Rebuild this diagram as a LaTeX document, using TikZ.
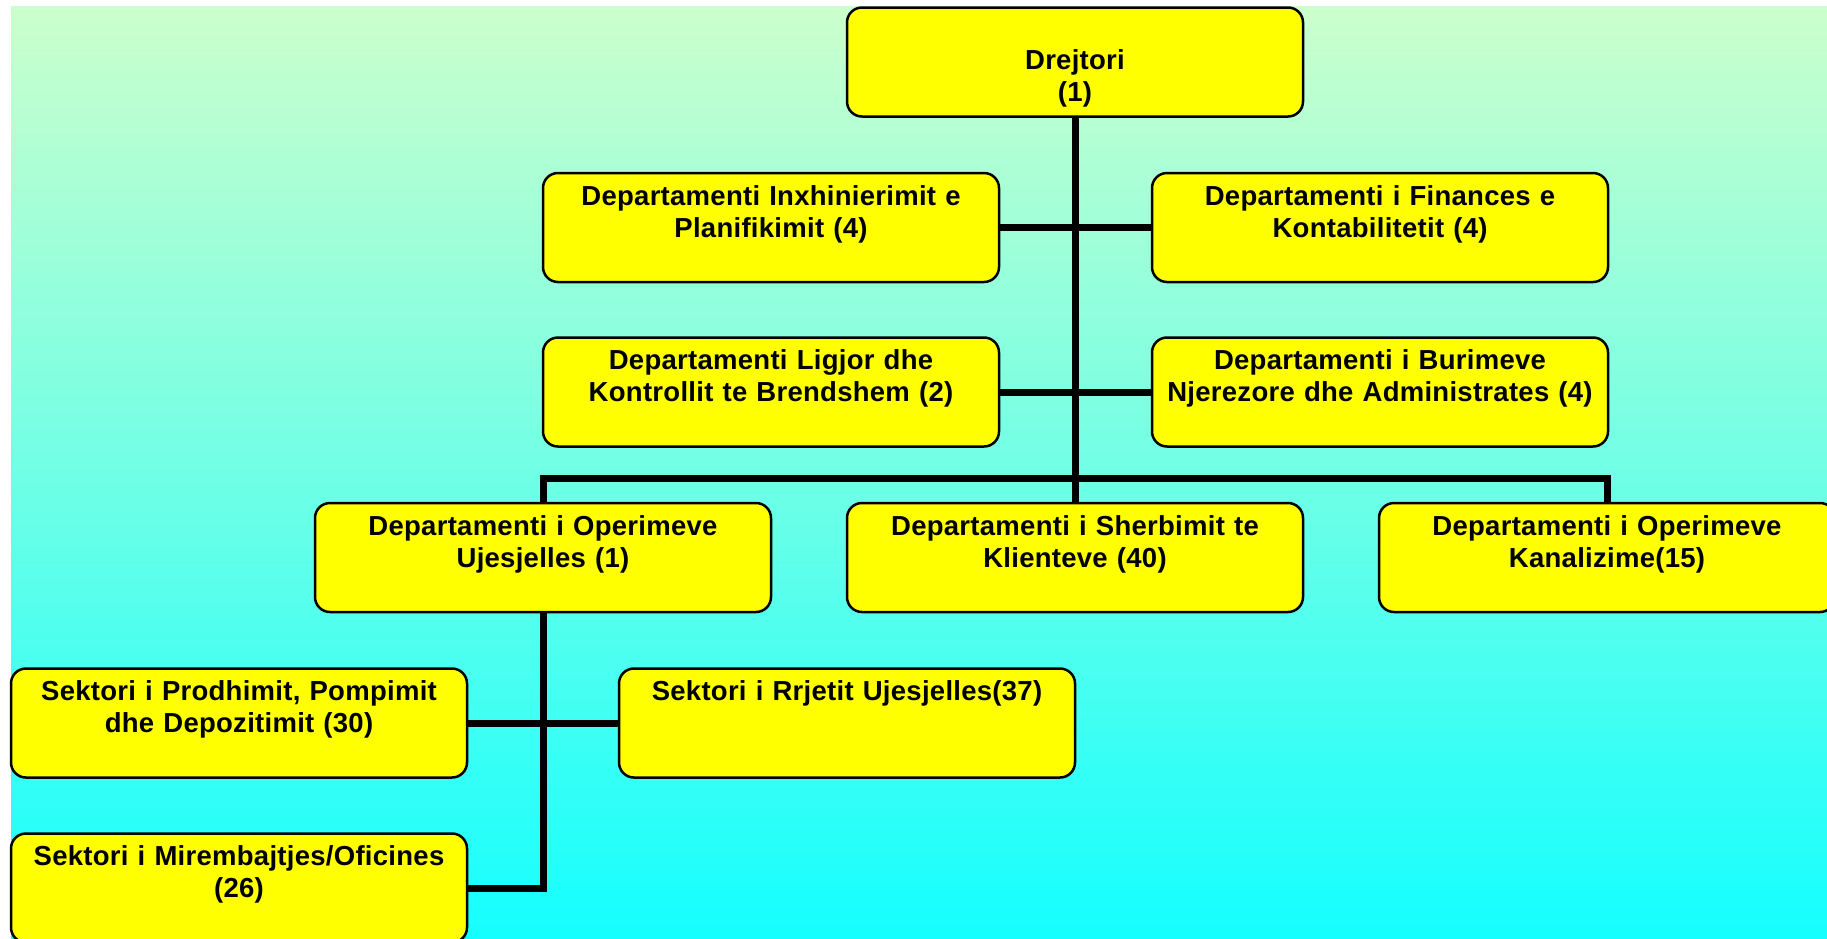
\documentclass[tikz,border=0pt]{standalone}
\usepackage{fontspec}
\setmainfont[LetterSpace=1]{Liberation Sans}
\definecolor{bgtop}{HTML}{CCFFCC}
\definecolor{bgmid}{HTML}{A0FFE0}
\definecolor{bgbot}{HTML}{14FFFF}
\definecolor{unitfill}{HTML}{FFFF00}
\begin{document}
\begin{tikzpicture}[x=1pt,y=-1pt,
    unit/.style={draw=black,line width=2.5pt,fill=unitfill,rounded corners=15pt,inner xsep=8pt,inner ysep=6pt,
        text width=440pt,align=center,text height=26pt,text depth=71pt,font=\fontsize{27.5}{32}\selectfont\bfseries},
    link/.style={line width=7pt}]
    \useasboundingbox (0,0) rectangle (1827,938);
    \fill[top color=bgtop,middle color=bgmid,bottom color=bgbot] (11,6) rectangle (1827,938);
    \node[unit,text height=56pt,text depth=41pt] (drej) at (1075,62) {Drejtori\\(1)};
    \node[unit] (inxh) at (771,227.5) {Departamenti Inxhinierimit e\\Planifikimit (4)};
    \node[unit] (fin) at (1380,227.5) {Departamenti i Finances e\\Kontabilitetit (4)};
    \node[unit] (ligj) at (771,392) {Departamenti Ligjor dhe\\Kontrollit te Brendshem (2)};
    \node[unit] (bur) at (1380,392) {Departamenti i Burimeve\\Njerezore dhe Administrates (4)};
    \node[unit] (opuj) at (543,557.5) {Departamenti i Operimeve\\Ujesjelles (1)};
    \node[unit] (sherb) at (1075,557.5) {Departamenti i Sherbimit te\\Klienteve (40)};
    \node[unit] (kanal) at (1607,557.5) {Departamenti i Operimeve\\Kanalizime(15)};
    \node[unit] (prodh) at (239,723) {Sektori i Prodhimit, Pompimit\\dhe Depozitimit (30)};
    \node[unit] (rrjet) at (847,723) {Sektori i Rrjetit Ujesjelles(37)};
    \node[unit] (mirem) at (239,888) {Sektori i Mirembajtjes/Oficines\\(26)};
    \draw[link] (drej.south) -- (sherb.north);
    \draw[link] (inxh.east) -- (fin.west);
    \draw[link] (ligj.east) -- (bur.west);
    \draw[link] (opuj.north) -- ++(0,-23) -| (kanal.north);
    \draw[link] (opuj.south) |- (mirem.east);
    \draw[link] (prodh.east) -- (rrjet.west);
\end{tikzpicture}
\end{document}
